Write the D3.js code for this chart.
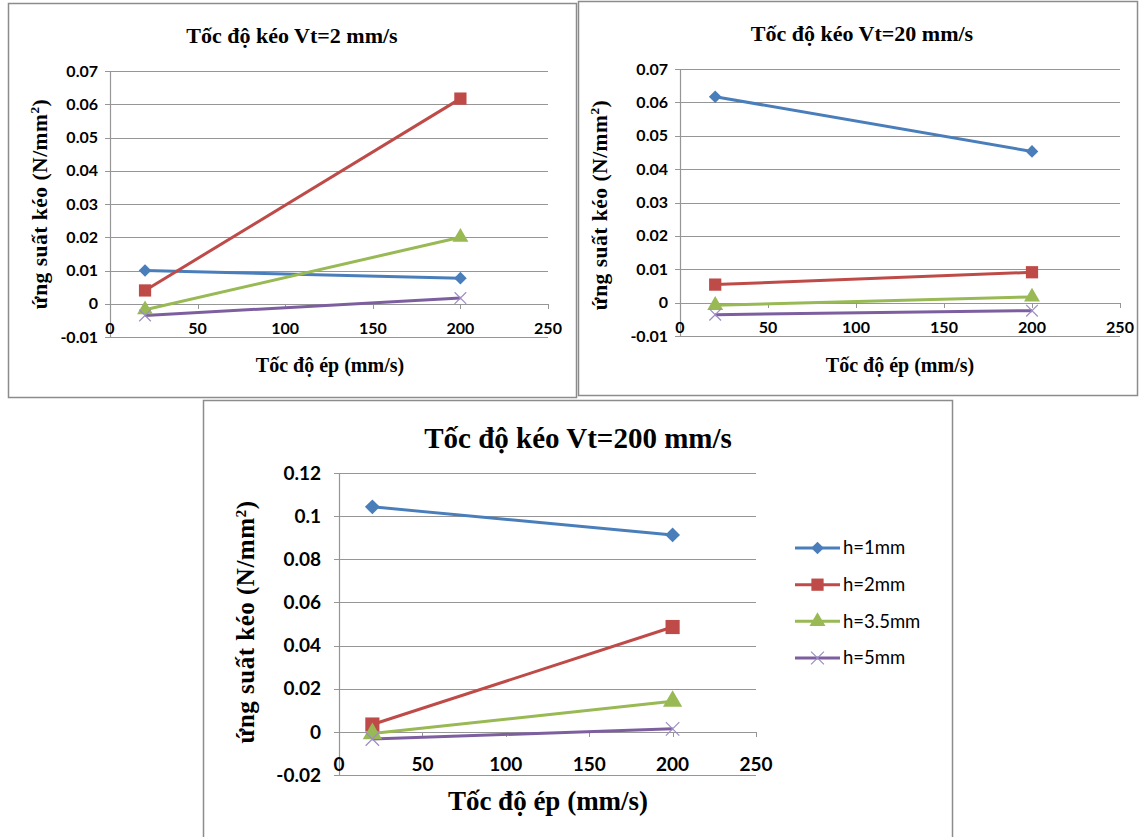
<!DOCTYPE html>
<html>
<head>
<meta charset="utf-8">
<script src="https://cdn.jsdelivr.net/npm/d3@7"></script>
<style>
  body { margin: 0; background: #fff; }
  svg { display: block; }
</style>
</head>
<body>
<div id="chart"></div>
<script>
// x values (Tốc độ ép, mm/s)
var xValues = [20, 200];

// series names
var seriesNames = ['h=1mm', 'h=2mm', 'h=3.5mm', 'h=5mm'];

// stress values, one array per series, for each pull speed
var vt2 = [
    [0.0100, 0.0077],
    [0.0040, 0.0617],
    [-0.0018, 0.0200],
    [-0.0035, 0.0017]
];
var vt20 = [
    [0.0617, 0.0453],
    [0.0054, 0.0091],
    [-0.0008, 0.0017],
    [-0.0036, -0.0024]
];
var vt200 = [
    [0.1043, 0.0913],
    [0.0034, 0.0486],
    [-0.0008, 0.0142],
    [-0.0033, 0.0014]
];

var titles = ['Tốc độ kéo Vt=2 mm/s', 'Tốc độ kéo Vt=20 mm/s', 'Tốc độ kéo Vt=200 mm/s'];
var xTicks = [0, 50, 100, 150, 200, 250];
var yTicksSmall = [-0.01, 0, 0.01, 0.02, 0.03, 0.04, 0.05, 0.06, 0.07];
var yTicksBig = [-0.02, 0, 0.02, 0.04, 0.06, 0.08, 0.1, 0.12];

var colors = ['#4a7ebb', '#be4b48', '#98b954', '#7d5fa0'];
var markers = [d3.symbolSquare, d3.symbolSquare, d3.symbolTriangle, d3.symbolTimes];
var rotations = [45, 0, 0, 0];

var svg = d3.select('#chart')
    .append('svg')
    .attr('width', 1140)
    .attr('height', 837);

// panel frames
svg.append('rect').attr('x', 8.5).attr('y', 3.5).attr('width', 568).attr('height', 394)
    .attr('fill', 'none').attr('stroke', '#8c8c8c').attr('stroke-width', 1.5);
svg.append('rect').attr('x', 578.5).attr('y', 1.5).attr('width', 559).attr('height', 394)
    .attr('fill', 'none').attr('stroke', '#8c8c8c').attr('stroke-width', 1.5);
svg.append('rect').attr('x', 203.5).attr('y', 400.5).attr('width', 749).attr('height', 440)
    .attr('fill', '#fff').attr('stroke', '#8c8c8c').attr('stroke-width', 1.5);

function markerStyle(sel, s, size) {
    sel.attr('d', d3.symbol().type(markers[s]).size(size))
        .attr('fill', s === 3 ? 'none' : colors[s])
        .attr('stroke', s === 3 ? '#9d8cc4' : 'none')
        .attr('stroke-width', 1.2);
}

function drawPanel(p) {
    var g = svg.append('g');

    var x = d3.scaleLinear().domain([0, 250]).range([p.left, p.right]);
    var y = d3.scaleLinear().domain(p.yDomain).range([p.bottom, p.top]);

    // gridlines
    g.selectAll('.grid')
        .data(p.yTicks)
        .enter()
        .append('line')
        .attr('x1', p.left - 5)
        .attr('x2', p.right)
        .attr('y1', d => Math.round(y(d)) + 0.5)
        .attr('y2', d => Math.round(y(d)) + 0.5)
        .attr('stroke', '#969696')
        .attr('stroke-width', 1.2);

    // y axis line
    g.append('line')
        .attr('x1', p.left + 0.5).attr('x2', p.left + 0.5)
        .attr('y1', p.top).attr('y2', p.bottom)
        .attr('stroke', '#969696').attr('stroke-width', 1.2);

    // x tick marks on the zero line
    g.selectAll('.xtick')
        .data(xTicks)
        .enter()
        .append('line')
        .attr('x1', d => Math.round(x(d)) + 0.5)
        .attr('x2', d => Math.round(x(d)) + 0.5)
        .attr('y1', Math.round(y(0)))
        .attr('y2', Math.round(y(0)) + 5)
        .attr('stroke', '#969696');

    // y tick labels
    g.selectAll('.ylab')
        .data(p.yTicks)
        .enter()
        .append('text')
        .attr('x', p.left - p.yLabGap)
        .attr('y', d => y(d))
        .attr('dy', '0.35em')
        .attr('text-anchor', 'end')
        .style('font', 'bold ' + p.tickSize + 'px Lato, sans-serif')
        .text(d => d);

    // x tick labels (low position)
    g.selectAll('.xlab')
        .data(xTicks)
        .enter()
        .append('text')
        .attr('x', d => x(d))
        .attr('y', p.bottom - p.xLabUp)
        .attr('text-anchor', 'middle')
        .style('font', 'bold ' + p.tickSize + 'px Lato, sans-serif')
        .text(d => d);

    // titles
    g.append('text')
        .attr('x', p.titleX).attr('y', p.titleY)
        .attr('text-anchor', 'middle')
        .style('font', 'bold ' + p.titleSize + 'px "Liberation Serif", serif')
        .text(p.title);

    g.append('text')
        .attr('x', p.xTitleX).attr('y', p.xTitleY)
        .attr('text-anchor', 'middle')
        .style('font', 'bold ' + p.axisSize + 'px "Liberation Serif", serif')
        .text('Tốc độ ép (mm/s)');

    var yt = g.append('text')
        .attr('transform', 'translate(' + p.yTitleX + ',' + p.yTitleY + ') rotate(-90)')
        .attr('text-anchor', 'middle')
        .style('font', 'bold ' + p.yAxisSize + 'px "Liberation Serif", serif')
        .style('letter-spacing', '0.5px');
    yt.append('tspan').text('ứng suất kéo (N/mm');
    yt.append('tspan').attr('dy', -8).style('font-size', (p.yAxisSize * 0.62) + 'px').text('2');
    yt.append('tspan').attr('dy', 8).text(')');

    // lines and markers
    var line = d3.line()
        .x((d, i) => x(xValues[i]))
        .y(d => y(d));

    p.data.forEach(function (vals, s) {
        g.append('path')
            .datum(vals)
            .attr('d', line)
            .attr('fill', 'none')
            .attr('stroke', colors[s])
            .attr('stroke-width', 3);
    });

    p.data.forEach(function (vals, s) {
        g.selectAll('.m' + s)
            .data(vals)
            .enter()
            .append('path')
            .attr('transform', (d, i) => 'translate(' + x(xValues[i]) + ',' + y(d) + ') rotate(' + rotations[s] + ')')
            .call(markerStyle, s, p.markSizes[s]);
    });
}

drawPanel({
    data: vt2, title: titles[0], yDomain: [-0.01, 0.07], yTicks: yTicksSmall,
    left: 110, right: 548, top: 71, bottom: 337, xLabUp: 3, yLabGap: 12,
    tickSize: 16, titleSize: 22, axisSize: 20, yAxisSize: 21.5,
    titleX: 292, titleY: 43, xTitleX: 330, xTitleY: 372, yTitleX: 47, yTitleY: 204,
    markSizes: [80, 150, 110, 90]
});

drawPanel({
    data: vt20, title: titles[1], yDomain: [-0.01, 0.07], yTicks: yTicksSmall,
    left: 680, right: 1120, top: 69, bottom: 336, xLabUp: 3, yLabGap: 12,
    tickSize: 16, titleSize: 22, axisSize: 20, yAxisSize: 21.5,
    titleX: 862, titleY: 41, xTitleX: 900, xTitleY: 372, yTitleX: 607, yTitleY: 205,
    markSizes: [80, 150, 110, 90]
});

drawPanel({
    data: vt200, title: titles[2], yDomain: [-0.02, 0.12], yTicks: yTicksBig,
    left: 339, right: 756, top: 473, bottom: 775, xLabUp: 4, yLabGap: 18,
    tickSize: 19, titleSize: 29, axisSize: 27, yAxisSize: 25,
    titleX: 578, titleY: 448, xTitleX: 548, xTitleY: 810, yTitleX: 254, yTitleY: 622,
    markSizes: [110, 200, 160, 120]
});

// legend for the bottom panel
var legend = svg.append('g');
var legendY = d3.scalePoint().domain(seriesNames).range([548, 658]);

seriesNames.forEach(function (name, s) {
    var yy = legendY(name);
    legend.append('line')
        .attr('x1', 795).attr('x2', 840)
        .attr('y1', yy).attr('y2', yy)
        .attr('stroke', colors[s]).attr('stroke-width', 3);
    legend.append('path')
        .attr('transform', 'translate(817.5,' + yy + ') rotate(' + rotations[s] + ')')
        .call(markerStyle, s, [80, 150, 110, 110][s]);
    legend.append('text')
        .attr('x', 843).attr('y', yy)
        .attr('dy', '0.35em')
        .style('font', '18.5px Lato, sans-serif')
        .text(name);
});
</script>
</body>
</html>
